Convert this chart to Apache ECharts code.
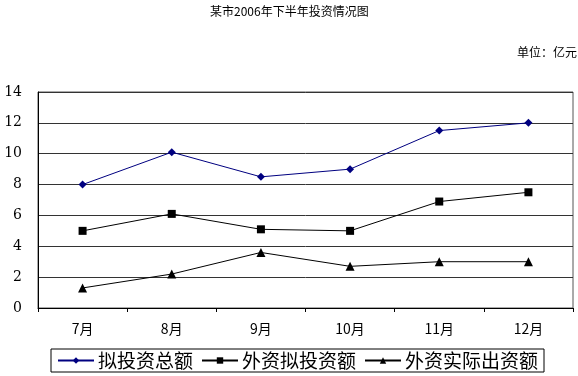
<!DOCTYPE html>
<html>
<head>
<meta charset="utf-8">
<script src="https://cdn.jsdelivr.net/npm/echarts@6/dist/echarts.min.js"></script>
<style>
  html, body { margin: 0; padding: 0; background: #fff; }
  #chart { width: 578px; height: 376px; }
</style>
</head>
<body>
<div id="chart"></div>
<script>
// 月份
const months = ['7月', '8月', '9月', '10月', '11月', '12月'];
// 拟投资总额
const totalPlanned = [8, 10.1, 8.5, 9, 11.5, 12];
// 外资拟投资额
const foreignPlanned = [5, 6.1, 5.1, 5, 6.9, 7.5];
// 外资实际出资额
const foreignActual = [1.3, 2.2, 3.6, 2.7, 3, 3];

const cjk = '"Noto Sans CJK SC", sans-serif';

let myChart = echarts.init(document.getElementById('chart'));

let option = {
  animation: false,
  backgroundColor: '#fff',
  title: [
    {
      text: '某市2006年下半年投资情况图',
      left: 210,
      top: 5,
      padding: 0,
      textStyle: { fontFamily: cjk, fontSize: 12, fontWeight: 'normal', color: '#000' }
    },
    {
      text: '单位：亿元',
      right: 1,
      top: 46,
      padding: 0,
      textStyle: { fontFamily: cjk, fontSize: 12, fontWeight: 'normal', color: '#000' }
    }
  ],
  legend: {
    left: 51,
    top: 349,
    itemGap: 8,
    itemWidth: 36,
    itemHeight: 8,
    padding: [2, 6, 2, 6],
    borderColor: '#000',
    borderWidth: 1,
    textStyle: { fontFamily: cjk, fontSize: 19, color: '#000', padding: [0, 0, 0, -1] },
    data: ['拟投资总额', '外资拟投资额', '外资实际出资额']
  },
  grid: {
    left: 38,
    right: 5,
    top: 92,
    bottom: 68,
    show: true,
    borderColor: '#555',
    borderWidth: 1
  },
  xAxis: {
    type: 'category',
    data: months,
    boundaryGap: true,
    axisLine: { lineStyle: { color: '#000' } },
    axisTick: { show: true, inside: false, length: 4, lineStyle: { color: '#000' } },
    axisLabel: { fontFamily: cjk, fontSize: 14, color: '#000', margin: 14 },
    splitLine: { show: false }
  },
  yAxis: {
    type: 'value',
    min: 0,
    max: 14,
    interval: 2,
    axisLine: { show: true, lineStyle: { color: '#000' } },
    axisTick: { show: false },
    axisLabel: { fontFamily: '"DejaVu Serif", serif', fontSize: 14, color: '#000', margin: 16 },
    splitLine: { show: true, lineStyle: { color: '#333', width: 1 } }
  },
  series: [
    {
      name: '拟投资总额',
      type: 'line',
      data: totalPlanned,
      symbol: 'diamond',
      symbolSize: 8,
      color: '#000080',
      lineStyle: { width: 1, color: '#000080' },
      itemStyle: { color: '#000080' }
    },
    {
      name: '外资拟投资额',
      type: 'line',
      data: foreignPlanned,
      symbol: 'rect',
      symbolSize: 8,
      color: '#000',
      lineStyle: { width: 1, color: '#000' },
      itemStyle: { color: '#000' }
    },
    {
      name: '外资实际出资额',
      type: 'line',
      data: foreignActual,
      symbol: 'triangle',
      symbolSize: 9,
      color: '#000',
      lineStyle: { width: 1, color: '#000' },
      itemStyle: { color: '#000' }
    }
  ]
};

myChart.setOption(option);
</script>
</body>
</html>
